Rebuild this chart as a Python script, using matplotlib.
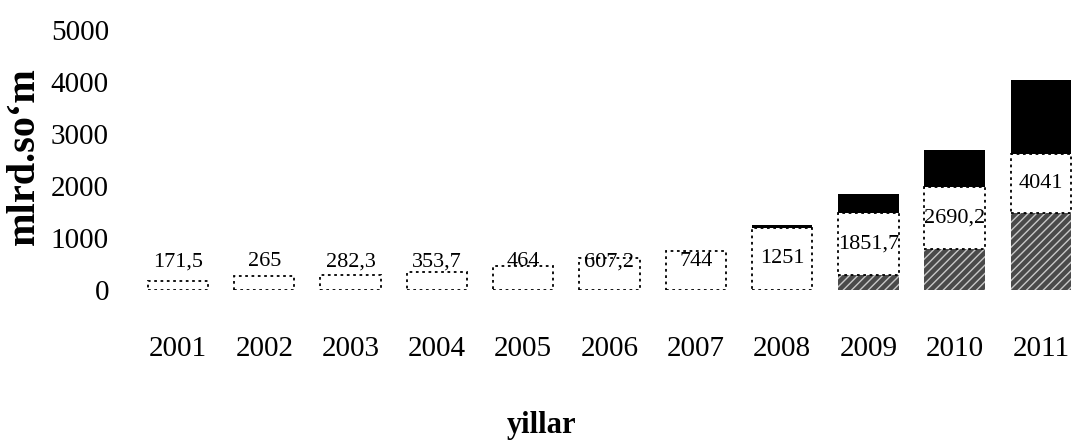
"""
Yillar bo'yicha stacked bar chart (mlrd.so'm), skan qilingan rasmni qayta chizish.

Har bir ustun uchta qismdan iborat:
    pastki qism  -> to'q kulrang, shtrixlangan
    o'rta qism   -> oq, nuqtali chegara (ichida jami qiymat yoziladi)
    yuqori qism  -> qora

Chiqish fayli: out.png
"""

import matplotlib.pyplot as plt


# Ma'lumotlar (rasmdan o'qilgan, taxminiy)
YEARS = ["2001", "2002", "2003", "2004", "2005", "2006",
         "2007", "2008", "2009", "2010", "2011"]
TOTAL_LABELS = ["171,5", "265", "282,3", "353,7", "464", "607,2",
                "744", "1251", "1851,7", "2690,2", "4041"]
BOTTOM_PART = [0, 0, 0, 0, 0, 0, 0, 0, 280, 790, 1480]
MIDDLE_PART = [171.5, 265, 282.3, 353.7, 464, 607.2, 744, 1201, 1191.7, 1185.2, 1141]
TOP_PART = [0, 0, 0, 0, 0, 0, 0, 50, 380, 715, 1420]
Y_TICKS = [0, 1000, 2000, 3000, 4000, 5000]


def main() -> None:
    plt.rcParams["font.family"] = ["Liberation Serif", "DejaVu Serif"]
    plt.rcParams["hatch.linewidth"] = 1.0

    fig = plt.figure(figsize=(10.72, 4.46), dpi=100)
    # o'qlar: chapda 120 px, pastki chiziq 290 px (yuqoridan)
    ax = fig.add_axes([120 / 1072, 156 / 446, 952 / 1072, 286 / 446])

    x = list(range(len(YEARS)))
    width = 0.7

    # pastki shtrixlangan qism
    ax.bar(x, BOTTOM_PART, width, color="#4a4a4a", edgecolor="#c8c8c8",
           hatch="////", linewidth=0)

    # o'rta oq qism (skanda chegaralari uzuq-uzuq ko'rinadi)
    ax.bar(x, MIDDLE_PART, width, bottom=BOTTOM_PART, color="white",
           edgecolor="black", linewidth=1.3, linestyle=(0, (1.5, 2)))

    # yuqori qora qism
    top_base = [b + m for b, m in zip(BOTTOM_PART, MIDDLE_PART)]
    ax.bar(x, TOP_PART, width, bottom=top_base, color="black",
           edgecolor="black", linewidth=0)

    # qiymat yozuvlari: o'rta qism markazida, kichik ustunlarda ustidan
    for xi, b, m, label in zip(x, BOTTOM_PART, MIDDLE_PART, TOTAL_LABELS):
        y = max(b + m / 2, 540)
        ax.text(xi, y, label, ha="center", va="center", fontsize=16,
                color="black")

    ax.set_xlim(-0.672, 10.36)
    ax.set_ylim(0, 5500)
    ax.set_xticks(x)
    ax.set_xticklabels(YEARS, fontsize=21)
    ax.set_yticks(Y_TICKS)
    ax.set_yticklabels([str(t) for t in Y_TICKS], fontsize=21)
    ax.tick_params(axis="x", length=0, pad=33)
    ax.tick_params(axis="y", length=0, pad=8)
    for spine in ax.spines.values():
        spine.set_visible(False)

    fig.text(542 / 1072, 21 / 446, "yillar", ha="center", va="center",
             fontsize=22, fontweight="bold")
    fig.text(24 / 1072, 290 / 446, "mlrd.so\u2018m", ha="center", va="center",
             rotation=90, fontsize=29, fontweight="bold")

    fig.savefig("out.png", dpi=100)


if __name__ == "__main__":
    main()
